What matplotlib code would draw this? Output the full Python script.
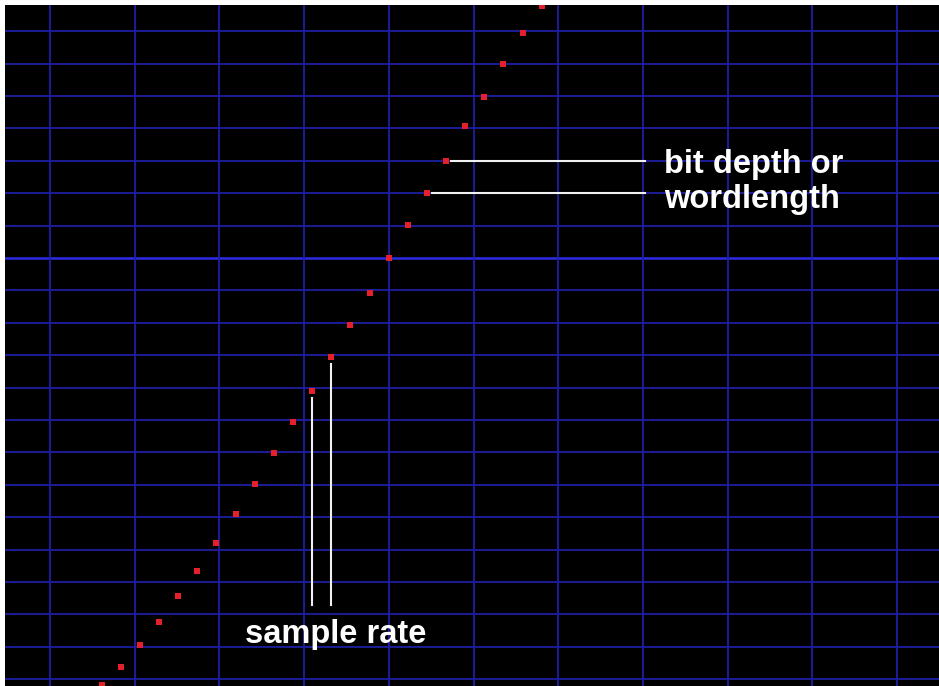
import numpy as np
from matplotlib import pyplot as plt

# sampled waveform: one red dot per sample, level in quantisation steps
sample_index = list(range(24))
sample_level = [-13.18, -12.61, -11.94, -11.24, -10.44, -9.65, -8.79, -7.91,
                -6.97, -6.03, -5.05, -4.11, -3.06, -2.07, -1.07, -0.01,
                1.02, 2.02, 2.99, 4.07, 4.98, 5.99, 6.94, 7.79]

bit_label = ["bit depth or", "wordlength"]
rate_label = "sample rate"
bit_samples = [18, 17]   # dots pointed at by the horizontal callouts
rate_samples = [11, 12]  # dots pointed at by the vertical callouts

fig = plt.figure(figsize=(9.39, 6.86), dpi=100, facecolor='white')
ax = fig.add_axes([5/939, 0, 934/939, 681/686])
ax.set_facecolor('black')
ax.set_xlim(-5.055, 43.77)
ax.set_ylim(-13.21, 7.81)
ax.set_xticks([])
ax.set_yticks([])
for s in ax.spines.values():
    s.set_visible(False)

# blue grid
for y in range(-13, 8):
    if y == 0:
        ax.axhline(y, color='#2c2ce6', lw=1.8, zorder=1)
    else:
        ax.axhline(y, color='#1e1ea4', lw=1.3, zorder=1)
for x in np.arange(-2.70, 44, 4.428):
    ax.axvline(x, color='#1e1ea4', lw=1.3, zorder=1)

# samples
ax.plot(sample_index, sample_level, 's', color='#e3202c', ms=4.5, mew=0, zorder=3)

# bit depth callouts
line_end = 28.4
for i in bit_samples:
    ax.plot([i + 0.28, line_end], [sample_level[i], sample_level[i]],
            color='#f0f0f0', lw=1.5, zorder=2)
ax.text(29.4, 2.62, bit_label[0], color='white', fontsize=23.5, fontweight='bold',
        family='Liberation Sans', va='baseline', ha='left')
ax.text(29.4, 1.55, bit_label[1], color='white', fontsize=23.5, fontweight='bold',
        family='Liberation Sans', va='baseline', ha='left')

# sample rate callouts
for i in rate_samples:
    ax.plot([i, i], [sample_level[i] - 0.22, -10.71],
            color='#f0f0f0', lw=1.5, zorder=2)
ax.text(7.5, -11.88, rate_label, color='white', fontsize=23.5, fontweight='bold',
        family='Liberation Sans', va='baseline', ha='left')

fig.savefig('out.png', dpi=100, facecolor='white')
